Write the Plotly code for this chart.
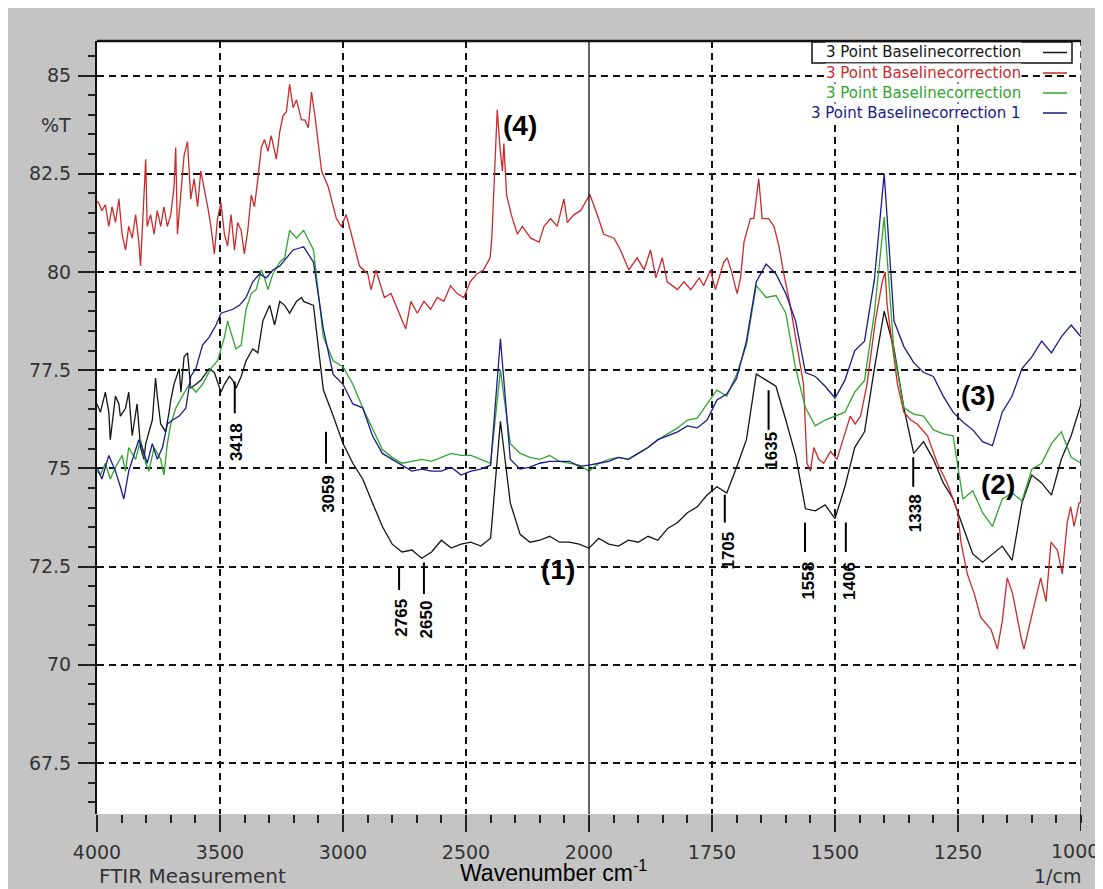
import plotly.graph_objects as go

# ---------------- data ----------------
# common coarse grid used after 3160 cm-1 for curves (1)-(3)
grid_wn = [3160, 3120, 3080, 3040, 3000, 2960, 2920, 2880, 2840,
           2800, 2760, 2720, 2680, 2640, 2600, 2560, 2520, 2480, 2440,
           2400, 2360, 2320, 2280, 2240, 2200, 2160, 2120, 2080, 2040,
           2000, 1980, 1960, 1940, 1920, 1900, 1880, 1860, 1840, 1820,
           1800, 1780, 1760, 1740, 1720, 1700, 1680, 1660, 1640, 1620,
           1600, 1580, 1560, 1540, 1520, 1500, 1480, 1460, 1440, 1420,
           1400, 1380, 1360, 1340, 1320, 1300, 1280, 1260, 1240, 1220,
           1200, 1180, 1160, 1140, 1120, 1100, 1080, 1060, 1040, 1020,
           1000]

# (1) black
black_wn = [4000, 3986, 3966, 3952, 3946, 3925, 3911, 3905, 3884, 3871,
            3857, 3837, 3823, 3809, 3802, 3775, 3762, 3755, 3741, 3721,
            3707, 3700, 3687, 3666, 3659, 3646, 3632, 3619, 3598, 3578,
            3544, 3523, 3496, 3482, 3462, 3448, 3435, 3414, 3394, 3367,
            3346, 3326, 3298, 3278, 3257, 3237, 3217, 3189, 3169] + grid_wn
black_t = [76.64, 76.43, 76.94, 76.43, 75.73, 76.84, 76.64, 76.33, 76.53, 76.94,
           75.83, 76.64, 75.53, 75.23, 75.63, 76.23, 77.30, 76.84, 76.13, 75.93,
           76.43, 76.74, 77.14, 77.54, 76.94, 77.84, 77.94, 77.04, 77.14, 77.24,
           77.54, 77.44, 76.94, 77.14, 77.34, 77.24, 77.04, 77.34, 77.74, 78.04,
           77.94, 78.75, 79.15, 78.65, 79.25, 79.15, 78.95, 79.25, 79.35,
           79.25, 79.15, 77.00, 76.34, 75.63, 75.13, 74.73, 74.12, 73.52,
           73.07, 72.87, 72.92, 72.71, 72.87, 73.17, 72.97, 73.07, 73.12, 73.02,
           73.22, 76.20, 74.12, 73.32, 73.12, 73.17, 73.27, 73.12, 73.12, 73.07,
           72.97, 73.22, 73.07, 73.02, 73.17, 73.12, 73.27, 73.17, 73.47, 73.62,
           73.87, 74.02, 74.32, 74.53, 74.37, 75.03, 75.73, 77.40, 77.24, 77.09,
           76.23, 75.33, 73.97, 73.92, 74.07, 73.72, 74.53, 75.53, 75.93, 77.54,
           79.00, 78.04, 76.54, 75.38, 75.68, 75.23, 74.63, 74.22, 73.52, 72.82,
           72.61, 72.82, 73.02, 72.66, 74.12, 74.83, 74.63, 74.32, 75.23, 75.83,
           76.64]

# (2) green
green_wn = [4000, 3986, 3966, 3946, 3925, 3898, 3884, 3871, 3843, 3823,
            3802, 3789, 3768, 3741, 3728, 3714, 3700, 3680, 3653, 3625,
            3598, 3571, 3537, 3510, 3482, 3469, 3455, 3435, 3414, 3394,
            3373, 3353, 3332, 3319, 3305, 3285, 3257, 3237, 3217, 3189] + grid_wn
green_t = [74.93, 74.83, 75.13, 74.73, 75.03, 75.33, 74.93, 75.53, 75.23, 75.73,
           75.13, 74.93, 75.53, 75.23, 74.83, 75.63, 76.13, 76.53, 76.84, 77.14,
           76.94, 77.14, 77.54, 77.74, 78.34, 78.75, 78.45, 78.04, 78.14, 79.05,
           79.45, 79.55, 80.05, 79.85, 79.55, 79.95, 80.25, 80.36, 81.06, 80.86,
           81.06, 80.56, 78.35, 77.74, 77.59, 77.14, 76.54, 76.03, 75.48,
           75.28, 75.13, 75.18, 75.23, 75.18, 75.28, 75.38, 75.33, 75.33, 75.23,
           75.13, 77.50, 75.63, 75.38, 75.28, 75.23, 75.33, 75.18, 75.13, 75.08,
           74.93, 75.13, 75.23, 75.28, 75.23, 75.38, 75.53, 75.73, 75.88, 76.03,
           76.23, 76.28, 76.64, 76.99, 76.84, 77.39, 78.14, 79.65, 79.35, 79.40,
           78.95, 77.54, 76.54, 76.08, 76.23, 76.33, 76.43, 76.94, 77.24, 78.95,
           81.40, 77.94, 76.54, 76.38, 76.33, 75.98, 75.88, 75.83, 74.22, 74.43,
           73.87, 73.52, 74.22, 74.37, 74.17, 74.98, 75.13, 75.63, 75.93, 75.28,
           75.13]

# (3) blue
blue_wn = [4000, 3980, 3952, 3925, 3905, 3891, 3871, 3850, 3830, 3816,
           3796, 3775, 3755, 3734, 3714, 3693, 3666, 3639, 3619, 3598,
           3571, 3544, 3516, 3496, 3475, 3448, 3421, 3394, 3367, 3339,
           3312, 3285, 3257, 3230, 3203, 3176] + grid_wn
blue_t = [75.03, 74.73, 75.33, 74.93, 74.53, 74.22, 74.93, 75.33, 75.73, 75.53,
          75.13, 75.63, 75.23, 75.53, 76.13, 76.23, 76.33, 76.53, 77.34, 77.54,
          78.14, 78.34, 78.65, 78.95, 79.00, 79.05, 79.15, 79.35, 79.75, 79.95,
          79.85, 80.05, 80.15, 80.36, 80.56, 80.61,
          80.64, 80.25, 78.55, 77.39, 77.14, 76.64, 76.54, 75.83, 75.38,
          75.23, 75.08, 74.93, 74.98, 74.93, 74.93, 75.03, 74.83, 74.93, 74.98,
          75.08, 78.30, 75.23, 74.98, 75.03, 75.13, 75.18, 75.18, 75.18, 75.05,
          75.08, 75.13, 75.18, 75.28, 75.23, 75.38, 75.53, 75.73, 75.83, 75.93,
          76.08, 76.03, 76.23, 76.74, 76.89, 77.29, 78.24, 79.75, 80.20, 79.95,
          79.45, 78.75, 77.44, 77.34, 77.09, 76.79, 77.24, 77.99, 78.24, 79.80,
          82.50, 78.75, 78.10, 77.69, 77.44, 77.34, 76.84, 76.43, 76.18, 75.98,
          75.68, 75.58, 76.43, 76.84, 77.54, 77.84, 78.24, 77.94, 78.35, 78.65,
          78.35]

# (4) red
red_wn = [4000, 3993, 3980, 3966, 3952, 3939, 3925, 3911, 3898, 3884,
          3871, 3857, 3843, 3830, 3823, 3809, 3802, 3796, 3782, 3768,
          3755, 3741, 3728, 3714, 3700, 3687, 3680, 3673, 3659, 3646,
          3632, 3619, 3605, 3591, 3578, 3564, 3550, 3537, 3523, 3510,
          3496, 3482, 3469, 3455, 3441, 3428, 3414, 3401, 3387, 3373,
          3360, 3346, 3332, 3319, 3305, 3292, 3271, 3257, 3244, 3230,
          3217, 3203, 3189, 3169, 3155, 3141, 3128, 3114, 3087, 3060,
          3027, 3007, 2987, 2966, 2933, 2899, 2886, 2866, 2832, 2805,
          2765, 2745, 2724, 2698, 2671, 2644, 2617, 2590, 2563, 2536,
          2509, 2483, 2456, 2429, 2402, 2395, 2373, 2362, 2352, 2346,
          2335, 2316, 2291, 2271, 2237, 2203, 2183, 2156, 2129, 2102,
          2088, 2061, 2034, 2007, 1998, 1986, 1970, 1949, 1936, 1919,
          1902, 1888, 1875, 1864, 1851, 1841, 1820, 1807, 1793, 1776,
          1767, 1753, 1743, 1726, 1719, 1709, 1699, 1692, 1685, 1672,
          1665, 1655, 1648, 1635, 1624, 1614, 1604, 1591, 1577, 1564,
          1557, 1550, 1543, 1533, 1523, 1509, 1496, 1482, 1469, 1459,
          1448, 1435, 1418, 1404, 1398, 1394, 1383, 1373, 1360, 1346,
          1333, 1312, 1292, 1272, 1251, 1244, 1231, 1217, 1204, 1183,
          1170, 1160, 1150, 1139, 1122, 1116, 1099, 1082, 1071, 1061,
          1048, 1038, 1028, 1021, 1014, 1004, 1000]
red_t = [81.80, 81.76, 81.56, 81.71, 81.16, 81.66, 81.26, 81.86, 80.96, 80.56,
         81.16, 80.86, 81.46, 80.76, 80.15, 82.16, 82.87, 81.16, 81.46, 80.96,
         81.56, 81.16, 81.66, 81.16, 81.46, 82.16, 83.17, 80.96, 82.06, 82.97,
         83.32, 81.86, 82.37, 81.66, 82.57, 82.16, 81.66, 81.16, 80.46, 81.36,
         81.76, 80.96, 80.66, 81.46, 80.56, 81.26, 81.06, 80.46, 81.06, 81.96,
         81.66, 82.37, 83.17, 83.37, 83.07, 83.47, 82.87, 83.57, 83.97, 84.08,
         84.78, 84.18, 84.38, 83.87, 83.87, 83.67, 84.58, 83.97, 82.57, 82.17,
         81.36, 81.16, 81.46, 80.96, 80.15, 79.95, 79.55, 80.05, 79.35, 79.45,
         78.85, 78.55, 79.25, 78.95, 79.25, 79.05, 79.35, 79.25, 79.65, 79.45,
         79.35, 79.75, 79.95, 80.05, 80.36, 80.86, 84.13, 83.17, 82.57, 83.27,
         81.96, 81.46, 80.96, 81.16, 80.86, 80.76, 81.16, 81.36, 81.16, 81.86,
         81.26, 81.46, 81.56, 81.86, 81.96, 81.56, 80.96, 80.86, 80.56, 80.05,
         80.36, 80.05, 80.56, 79.85, 80.36, 79.75, 79.55, 79.75, 79.55, 79.85,
         79.65, 80.05, 79.55, 80.25, 80.36, 79.95, 79.45, 79.85, 80.76, 81.36,
         81.36, 82.37, 81.36, 81.36, 81.16, 80.66, 79.95, 79.15, 78.14, 77.14,
         75.13, 74.93, 75.53, 75.23, 75.13, 75.43, 75.23, 75.83, 76.33, 76.13,
         76.33, 77.14, 78.75, 79.75, 80.00, 79.15, 78.14, 77.14, 76.43, 76.23,
         76.13, 75.83, 75.13, 74.62, 73.92, 73.12, 72.31, 71.81, 71.21, 70.90,
         70.40, 71.11, 72.21, 71.81, 70.70, 70.40, 71.31, 72.21, 71.61, 73.12,
         72.92, 72.31, 73.62, 74.02, 73.52, 74.12, 74.13]

series_names = ["3 Point Baselinecorrection", "3 Point Baselinecorrection",
                "3 Point Baselinecorrection", "3 Point Baselinecorrection 1"]

y_tick_values = [67.5, 70, 72.5, 75, 77.5, 80, 82.5, 85]
y_tick_labels = ["67.5", "70", "72.5", "75", "77.5", "80", "82.5", "85"]
x_hi_ticks = [4000, 3500, 3000, 2500, 2000]
x_hi_labels = ["4000", "3500", "3000", "2500", "2000"]
x_lo_ticks = [1750, 1500, 1250]
x_lo_labels = ["1750", "1500", "1250"]
x_end_label = "1000"

peak_labels = ["3418", "3059", "2765", "2650", "1705", "1635", "1558", "1406", "1338"]
curve_labels = ["(4)", "(1)", "(3)", "(2)"]

for a, b in [(black_wn, black_t), (green_wn, green_t), (blue_wn, blue_t), (red_wn, red_t)]:
    assert len(a) == len(b), (len(a), len(b))

# ---------------- layout helpers ----------------
OFF = 8                       # page body margin
SW, SH = 1103, 889            # screen size
PL, PR, PT, PB = 97, 1081, 41, 814   # plot box on screen
W, H = SW - OFF, SH - OFF
PW = PR - PL
PH = PB - PT


def fx(px):
    return (px - PL) / PW


def fy(py):
    return (PB - py) / PH


C_BLACK = "#141414"
C_RED = "#cc2a2a"
C_GREEN = "#2fa52f"
C_BLUE = "#1a1a8a"
TXT = "#333333"

fig = go.Figure()


def split(wn, t):
    hi = [i for i, w in enumerate(wn) if w >= 2000]
    lo = [i for i, w in enumerate(wn) if w <= 2000]
    if hi[-1] + 1 < len(wn):
        hi = hi + [hi[-1] + 1]
    if lo[0] - 1 >= 0:
        lo = [lo[0] - 1] + lo
    return ([wn[i] for i in hi], [t[i] for i in hi], [wn[i] for i in lo], [t[i] for i in lo])


series = [(black_wn, black_t, C_BLACK, series_names[0]),
          (red_wn, red_t, C_RED, series_names[1]),
          (green_wn, green_t, C_GREEN, series_names[2]),
          (blue_wn, blue_t, C_BLUE, series_names[3])]

for wn, vals, col, name in series:
    hx, hy, lx, ly = split(wn, vals)
    fig.add_trace(go.Scatter(x=hx, y=hy, xaxis="x", yaxis="y", mode="lines", name=name,
                             line=dict(color=col, width=1.3), showlegend=False))
    fig.add_trace(go.Scatter(x=lx, y=ly, xaxis="x2", yaxis="y", mode="lines", name=name,
                             line=dict(color=col, width=1.3), showlegend=False))

tickfont = dict(family="DejaVu Sans", size=19, color=TXT)
common_x = dict(anchor="y", tickmode="array", ticks="outside", ticklen=17, tickwidth=2,
                tickcolor="#222222", showgrid=True, gridcolor="#111111", gridwidth=1.5,
                griddash="7px,5px", zeroline=False, showline=False, tickfont=tickfont,
                automargin=False, ticklabelstandoff=4)

fig.update_layout(
    width=W, height=H,
    margin=dict(l=PL - OFF, r=SW - PR, t=PT - OFF, b=SH - PB, autoexpand=False),
    paper_bgcolor="#c4c4c4", plot_bgcolor="white",
    showlegend=False,
    xaxis=dict(domain=[0, 0.5], range=[4000, 2000], tickvals=x_hi_ticks, ticktext=x_hi_labels,
               minor=dict(dtick=100, ticks="outside", ticklen=8, tickwidth=2,
                          tickcolor="#222222", showgrid=False), **common_x),
    xaxis2=dict(domain=[0.5, 1], range=[2000, 1000], tickvals=x_lo_ticks, ticktext=x_lo_labels,
                minor=dict(dtick=50, ticks="outside", ticklen=8, tickwidth=2,
                           tickcolor="#222222", showgrid=False), **common_x),
    yaxis=dict(domain=[0, 1], range=[66.2, 85.88], anchor="x", tickmode="array",
               tickvals=y_tick_values, ticktext=y_tick_labels, ticks="outside", ticklen=17,
               tickwidth=2, tickcolor="#222222", showgrid=True, gridcolor="#111111",
               gridwidth=1.5, griddash="7px,5px", zeroline=False, showline=True,
               linecolor="#111111", linewidth=2, tickfont=tickfont, automargin=False,
               ticklabelstandoff=3,
               minor=dict(dtick=0.5, ticks="outside", ticklen=7, tickwidth=2,
                          tickcolor="#222222", showgrid=False)),
)

shapes = []
shapes.append(dict(type="line", xref="paper", yref="paper", x0=0, x1=1, y0=1, y1=1,
                   line=dict(color="#111111", width=2.5)))
shapes.append(dict(type="line", xref="paper", yref="paper", x0=0.5, x1=0.5, y0=0, y1=1,
                   line=dict(color="#111111", width=1.3)))
shapes.append(dict(type="line", xref="x2", yref="paper", x0=1000, x1=1000, y0=0, y1=1,
                   line=dict(color="#111111", width=1.5, dash="7px,5px")))
shapes.append(dict(type="line", xref="x2", yref="paper", x0=1000, x1=1000, y0=0, y1=fy(PB + 17),
                   line=dict(color="#222222", width=2)))

# legend
legend_rows_py = [52.5, 73, 93, 113]
legend_cols = [C_BLACK, C_RED, C_GREEN, C_BLUE]
shapes.append(dict(type="rect", xref="paper", yref="paper", x0=fx(812), x1=fx(1072),
                   y0=fy(63), y1=fy(42), fillcolor="white",
                   line=dict(color="#111111", width=1.5), layer="above"))
annotations = []
for name, col, py in zip(series_names, legend_cols, legend_rows_py):
    annotations.append(dict(xref="paper", yref="paper", x=fx(1022), y=fy(py), xanchor="right",
                            yanchor="middle", text=name, showarrow=False, bgcolor="white",
                            borderpad=0, font=dict(family="DejaVu Sans", size=15, color=col)))
    shapes.append(dict(type="line", xref="paper", yref="paper", x0=fx(1043), x1=fx(1067),
                       y0=fy(py), y1=fy(py), line=dict(color=col, width=1.5), layer="above"))

# peak marker lines and labels
marker_x = [3440, 3069, 2772, 2671, 1724, 1635, 1561, 1478, 1341]
marker_y0 = [76.40, 75.12, 71.90, 71.80, 73.62, 75.98, 72.87, 72.87, 74.53]
marker_y1 = [77.21, 75.93, 72.47, 72.60, 74.33, 76.99, 73.62, 73.62, 75.28]
label_x = [3433, 3057, 2760, 2659, 1716, 1628, 1553, 1471, 1336]
label_y = [75.68, 74.35, 71.20, 71.15, 72.90, 75.45, 72.14, 72.14, 73.85]
for lab, mx, y0, y1, lx, ly in zip(peak_labels, marker_x, marker_y0, marker_y1, label_x, label_y):
    xr = "x" if mx >= 2000 else "x2"
    shapes.append(dict(type="line", xref=xr, yref="y", x0=mx, x1=mx, y0=y0, y1=y1,
                       line=dict(color="#000000", width=2)))
    annotations.append(dict(xref="x" if lx >= 2000 else "x2", yref="y", x=lx, y=ly,
                            text="<b>" + lab + "</b>", textangle=-90, showarrow=False,
                            xanchor="center", yanchor="middle",
                            font=dict(family="Liberation Sans", size=17, color="#000000")))

# curve numbers
curve_x = [2280, 2128, 1209, 1168]
curve_y = [83.72, 72.43, 76.86, 74.58]
for lab, cx, cy in zip(curve_labels, curve_x, curve_y):
    annotations.append(dict(xref="x" if cx >= 2000 else "x2", yref="y", x=cx, y=cy,
                            text="<b>" + lab + "</b>", showarrow=False,
                            xanchor="center", yanchor="middle",
                            font=dict(family="Liberation Sans", size=28, color="#000000")))

# axis texts
annotations.append(dict(xref="paper", yref="y", x=fx(73), y=83.75, xanchor="right", yanchor="middle",
                        text="%T", showarrow=False, font=tickfont))
annotations.append(dict(xref="paper", yref="paper", x=fx(1101), y=fy(851), xanchor="right",
                        yanchor="middle", text=x_end_label, showarrow=False, font=tickfont))
annotations.append(dict(xref="paper", yref="paper", x=fx(97), y=fy(876), xanchor="left",
                        yanchor="middle", text="FTIR Measurement", showarrow=False,
                        font=dict(family="DejaVu Sans", size=20, color=TXT)))
annotations.append(dict(xref="paper", yref="paper", x=fx(1083), y=fy(876), xanchor="right",
                        yanchor="middle", text="1/cm", showarrow=False,
                        font=dict(family="DejaVu Sans", size=19, color=TXT)))
annotations.append(dict(xref="paper", yref="paper", x=fx(458), y=fy(888), xanchor="left",
                        yanchor="bottom", text="Wavenumber cm<sup>-1</sup>", showarrow=False,
                        font=dict(family="Liberation Sans", size=23, color="#000000")))

fig.update_layout(shapes=shapes, annotations=annotations)
fig.write_html("out.html")
